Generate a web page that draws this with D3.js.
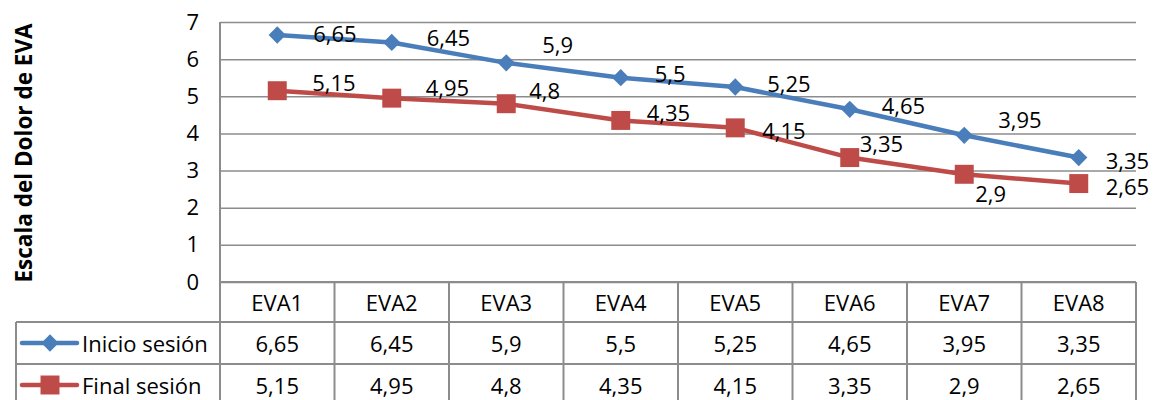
<!DOCTYPE html>
<html>
<head>
<meta charset="utf-8">
<script src="https://cdn.jsdelivr.net/npm/d3@7"></script>
<style>
  body { margin: 0; background: #fff; }
  svg { display: block; font-family: "Open Sans", sans-serif; }
</style>
</head>
<body>
<svg id="chart" width="1165" height="400"></svg>
<script>
// data
const categories = ["EVA1", "EVA2", "EVA3", "EVA4", "EVA5", "EVA6", "EVA7", "EVA8"]
const inicioSesion = [6.65, 6.45, 5.9, 5.5, 5.25, 4.65, 3.95, 3.35]
const finalSesion = [5.15, 4.95, 4.8, 4.35, 4.15, 3.35, 2.9, 2.65]
const seriesNames = ["Inicio sesión", "Final sesión"]
const yTicks = [0, 1, 2, 3, 4, 5, 6, 7]

// label nudges (left edge offset, vertical offset)
const labelNudge = [
  [[36, -2], [35, -5], [36, -19], [34, -5], [32, -4], [32, -4], [34, -16], [27, 2]],
  [[35, -9], [34, -11], [23, -14], [26, -8], [27, 2], [10, -15], [11, 19], [27, 2]]
]

const colours = ["#4A7EBB", "#BE4B48"]
const gridColour = "#8C8C8C"
const fontSize = 22

const svg = d3.select("#chart")
const plotLeft = 220, plotRight = 1136, plotTop = 22, plotBottom = 282
const rowH = [40, 42, 42]
const legendLeft = 16

const x = d3.scaleBand().domain(categories).range([plotLeft, plotRight])
const y = d3.scaleLinear().domain([0, 7]).range([plotBottom, plotTop])

const locale = d3.formatLocale({decimal: ",", thousands: ".", grouping: [3], currency: ["", "€"]})
const fmt = locale.format("~g")

// grid + y tick labels
const yAxis = svg.append("g")
  .attr("transform", `translate(${plotLeft},0)`)
  .call(d3.axisLeft(y).tickValues(yTicks).tickSize(-(plotRight - plotLeft)).tickPadding(14).tickFormat(d3.format("d")))
yAxis.select(".domain").remove()
yAxis.selectAll(".tick line").attr("stroke", gridColour).attr("stroke-width", 1.5)
yAxis.selectAll(".tick text")
  .attr("font-size", fontSize)
  .attr("font-family", "Open Sans")
  .attr("fill", "#000")
  .attr("dx", -7)

// axis title
svg.append("text")
  .attr("transform", `translate(23,${(plotTop + plotBottom) / 2 + 1}) rotate(-90)`)
  .attr("text-anchor", "middle")
  .attr("dominant-baseline", "central")
  .attr("font-weight", "bold")
  .attr("font-size", 22.5)
  .text("Escala del Dolor de EVA")

// data table
const row1 = plotBottom + rowH[0]
const row2 = row1 + rowH[1]
const row3 = row2 + rowH[2]
const table = svg.append("g").attr("stroke", gridColour).attr("stroke-width", 2)
table.append("line").attr("x1", plotLeft).attr("x2", plotLeft).attr("y1", plotTop).attr("y2", row3)
table.append("line").attr("x1", plotRight).attr("x2", plotRight).attr("y1", plotBottom).attr("y2", row3)
table.append("line").attr("x1", legendLeft).attr("x2", legendLeft).attr("y1", row1).attr("y2", row3)
table.selectAll(".vcol").data(categories.slice(1))
  .join("line")
  .attr("x1", d => x(d)).attr("x2", d => x(d))
  .attr("y1", plotBottom).attr("y2", row3)
table.append("line").attr("x1", plotLeft).attr("x2", plotRight).attr("y1", plotBottom).attr("y2", plotBottom)
table.selectAll(".hrow").data([row1, row2, row3])
  .join("line")
  .attr("x1", legendLeft).attr("x2", plotRight)
  .attr("y1", d => d).attr("y2", d => d)

svg.append("g").selectAll("text").data(categories)
  .join("text")
  .attr("x", d => x(d) + x.bandwidth() / 2)
  .attr("y", plotBottom + rowH[0] / 2)
  .attr("text-anchor", "middle")
  .attr("dominant-baseline", "central")
  .attr("font-size", fontSize)
  .text(d => d)

const allSeries = [inicioSesion, finalSesion]
const rowCentres = [row1 + rowH[1] / 2, row2 + rowH[2] / 2]

allSeries.forEach((vals, s) => {
  svg.append("g").selectAll("text").data(vals)
    .join("text")
    .attr("x", (d, i) => x(categories[i]) + x.bandwidth() / 2)
    .attr("y", rowCentres[s])
    .attr("text-anchor", "middle")
    .attr("dominant-baseline", "central")
    .attr("font-size", fontSize)
    .text(d => fmt(d))
})

// markers
const diamond = d3.symbol().type(d3.symbolDiamond2).size(190)
const square = d3.symbol().type(d3.symbolSquare).size(360)
const markers = [diamond, square]

// legend keys in table
allSeries.forEach((vals, s) => {
  const cy = rowCentres[s]
  svg.append("line")
    .attr("x1", 22).attr("x2", 77).attr("y1", cy).attr("y2", cy)
    .attr("stroke", colours[s]).attr("stroke-width", 4.5).attr("stroke-linecap", "round")
  svg.append("path")
    .attr("d", markers[s]())
    .attr("transform", `translate(50,${cy})`)
    .attr("fill", colours[s])
  svg.append("text")
    .attr("x", 82).attr("y", cy)
    .attr("dominant-baseline", "central")
    .attr("font-size", fontSize)
    .text(seriesNames[s])
})

// lines
const line = d3.line()
  .x((d, i) => x(categories[i]) + x.bandwidth() / 2)
  .y(d => y(d))

allSeries.forEach((vals, s) => {
  svg.append("path")
    .datum(vals)
    .attr("d", line)
    .attr("fill", "none")
    .attr("stroke", colours[s])
    .attr("stroke-width", 4.5)
    .attr("stroke-linejoin", "round")

  svg.append("g").selectAll("path").data(vals)
    .join("path")
    .attr("d", markers[s]())
    .attr("transform", (d, i) => `translate(${x(categories[i]) + x.bandwidth() / 2},${y(d)})`)
    .attr("fill", colours[s])

  svg.append("g").selectAll("text").data(vals)
    .join("text")
    .attr("x", (d, i) => x(categories[i]) + x.bandwidth() / 2 + labelNudge[s][i][0])
    .attr("y", (d, i) => y(d) + labelNudge[s][i][1])
    .attr("dominant-baseline", "central")
    .attr("font-size", fontSize)
    .text(d => fmt(d))
})
</script>
</body>
</html>
